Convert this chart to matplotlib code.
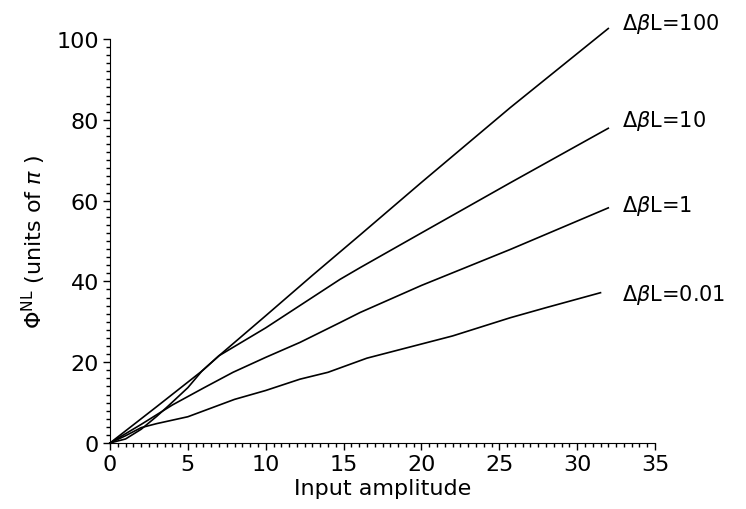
import matplotlib
matplotlib.use("Agg")
import matplotlib.pyplot as plt
from matplotlib.ticker import MultipleLocator

# ---- data ----
x_001 = [0, 1, 2, 3, 5, 8, 10, 12.2, 14, 16.5, 20, 22, 25.7, 28, 31.5]
y_001 = [0, 1.8, 3.8, 4.8, 6.5, 10.8, 13, 15.8, 17.5, 21, 24.5, 26.5, 31, 33.5, 37.2]

x_1 = [0, 2, 4, 6, 7.9, 10, 12.2, 14.77, 16.06, 20, 25.7, 32]
y_1 = [0, 4.6, 9.4, 13.6, 17.5, 21.2, 24.9, 29.8, 32.3, 39, 47.9, 58.2]

x_10 = [0, 3, 5.9, 7, 10, 14.77, 16.06, 20, 25.7, 32]
y_10 = [0, 9, 17.8, 21.6, 28.5, 40.5, 43.4, 52, 64.4, 77.9]

x_100 = [0, 1, 2, 3, 3.75, 5, 5.9, 7, 10, 13, 16.06, 20, 25.7, 32]
y_100 = [0, 1, 3.4, 6.6, 9.2, 13.7, 17.8, 21.6, 31.5, 41.5, 51.5, 64.5, 83.0, 102.6]

labels = [r"$\Delta\beta$L=100", r"$\Delta\beta$L=10", r"$\Delta\beta$L=1", r"$\Delta\beta$L=0.01"]
label_y = [104, 80, 59, 36.8]

xticks = [0, 5, 10, 15, 20, 25, 30, 35]
yticks = [0, 20, 40, 60, 80, 100]

plt.rcParams['font.family'] = ['DejaVu Sans']
plt.rcParams['mathtext.fontset'] = 'dejavusans'

fig = plt.figure(figsize=(7.46, 5.10), dpi=100)
ax = fig.add_axes([110/746, 1 - 444/510, (655-110)/746, (444-40)/510])

for xs, ys in [(x_001, y_001), (x_1, y_1), (x_10, y_10), (x_100, y_100)]:
    ax.plot(xs, ys, color='black', lw=1.2, clip_on=False)

for lab, ly in zip(labels, label_y):
    ax.text(32.9, ly, lab, fontsize=15, va='center', ha='left')

ax.set_xlim(0, 35)
ax.set_ylim(0, 100)
ax.set_xticks(xticks)
ax.set_yticks(yticks)
ax.xaxis.set_minor_locator(MultipleLocator(0.5))
ax.yaxis.set_minor_locator(MultipleLocator(2))
ax.spines['top'].set_visible(False)
ax.spines['right'].set_visible(False)
ax.tick_params(which='major', direction='out', length=5, width=1, labelsize=16, pad=3)
ax.tick_params(which='minor', direction='out', length=3, width=1)
ax.set_xlabel("Input amplitude", fontsize=16, labelpad=3)
ax.set_ylabel(r"$\Phi^{\rm NL}$ (units of $\pi$ )", fontsize=16, labelpad=6)

fig.savefig("out.png", dpi=100)
